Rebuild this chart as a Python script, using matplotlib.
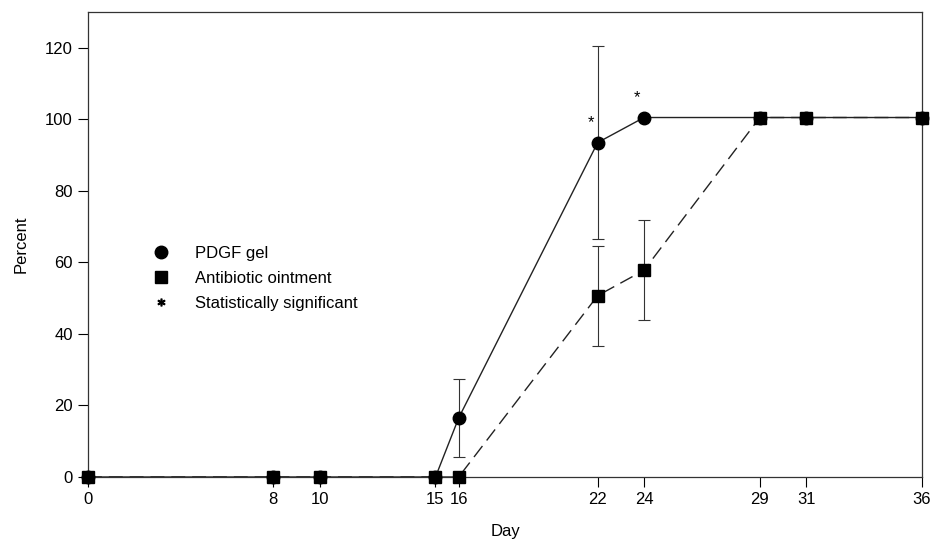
import matplotlib
matplotlib.use('Agg')
import matplotlib.pyplot as plt
from matplotlib.lines import Line2D

plt.rcParams['font.family'] = ['Liberation Sans', 'DejaVu Sans']

# data
days = [0, 8, 10, 15, 16, 22, 24, 29, 31, 36]
pdgf = [0, 0, 0, 0, 16.5, 93.5, 100.5, 100.5, 100.5, 100.5]
pdgf_err = [0, 0, 0, 0, 11, 27, 0, 0, 0, 0]
antibiotic = [0, 0, 0, 0, 0, 50.7, 57.8, 100.5, 100.5, 100.5]
antibiotic_err = [0, 0, 0, 0, 0, 14, 14, 0, 0, 0]
signif_days = [22, 24]
signif_y = [99, 106]

fig = plt.figure(figsize=(9.34, 5.45), dpi=100)
ax = fig.add_axes([88 / 934, 1 - 477 / 545, 834 / 934, 465 / 545])

# only draw error bars where there is an error
def err_points(x, y, e):
    pts = [(a, b, c) for a, b, c in zip(x, y, e) if c > 0]
    return [p[0] for p in pts], [p[1] for p in pts], [p[2] for p in pts]

ex, ey, ee = err_points(days, pdgf, pdgf_err)
ax.errorbar(ex, ey, yerr=ee, fmt='none', ecolor='#333333', elinewidth=0.8,
            capsize=4, capthick=0.8, zorder=2)
ex, ey, ee = err_points(days, antibiotic, antibiotic_err)
ax.errorbar(ex, ey, yerr=ee, fmt='none', ecolor='#333333', elinewidth=0.8,
            capsize=4, capthick=0.8, zorder=2)

ax.plot(days, pdgf, '-', color='#222222', lw=1.0, zorder=3)
ax.plot(days, antibiotic, color='#222222', lw=1.0, dashes=(10, 5), zorder=3)
ax.plot(days, pdgf, 'o', color='black', ms=9, zorder=4, clip_on=False)
ax.plot(days, antibiotic, 's', color='black', ms=8, zorder=5, clip_on=False)

# asterisks for statistically significant points
for d, y in zip(signif_days, signif_y):
    ax.text(d - 0.3, y, '*', ha='center', va='center', fontsize=12)

ax.set_xlim(0, 36)
ax.set_ylim(0, 130)
ax.set_xticks(days)
ax.set_yticks([0, 20, 40, 60, 80, 100, 120])
ax.tick_params(direction='out', length=7, width=0.8, labelsize=12, pad=4)
for s in ax.spines.values():
    s.set_linewidth(0.9)
    s.set_color('#333333')

ax.set_xlabel('Day', fontsize=12, labelpad=12)
ax.set_ylabel('Percent', fontsize=12, labelpad=12)

handles = [
    Line2D([], [], ls='none', marker='o', color='black', ms=9),
    Line2D([], [], ls='none', marker='s', color='black', ms=8),
    Line2D([], [], ls='none', marker='$*$', color='black', ms=5),
]
labels = ['PDGF gel', 'Antibiotic ointment', 'Statistically significant']
ax.legend(handles, labels, loc='upper left', bbox_to_anchor=(0.06, 0.53),
          frameon=False, fontsize=12, handletextpad=1.5, labelspacing=0.6,
          handlelength=1.0)

fig.savefig('out.png', dpi=100)
